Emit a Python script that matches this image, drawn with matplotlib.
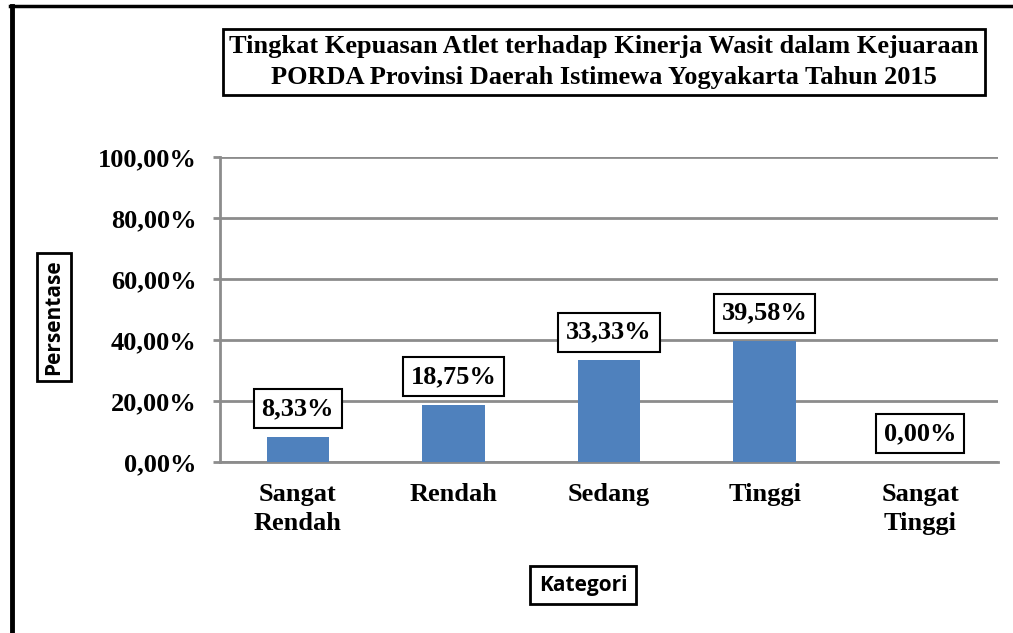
import matplotlib.pyplot as plt
from matplotlib.lines import Line2D

# data
categories = ['Sangat\nRendah', 'Rendah', 'Sedang', 'Tinggi', 'Sangat\nTinggi']
values = [8.33, 18.75, 33.33, 39.58, 0.00]
labels = ['8,33%', '18,75%', '33,33%', '39,58%', '0,00%']
yticks = [0, 20, 40, 60, 80, 100]
ytick_labels = ['0,00%', '20,00%', '40,00%', '60,00%', '80,00%', '100,00%']

W, H = 1013, 633
fig = plt.figure(figsize=(W / 100, H / 100), dpi=100)
ax = fig.add_axes([220 / W, 1 - 462 / H, 778 / W, 305 / H])

serif = 'Liberation Serif'
sans = 'Open Sans'

x = range(len(categories))
ax.bar(x, values, width=0.4, color='#4f81bd', zorder=3)
ax.set_xlim(-0.5, 4.5)
ax.set_ylim(0, 100)

ax.set_yticks(yticks)
ax.set_yticklabels(ytick_labels, fontfamily=serif, fontweight='bold', fontsize=19)
ax.set_xticks(list(x))
ax.set_xticklabels(categories, fontfamily=serif, fontweight='bold', fontsize=19, linespacing=1.35)
ax.tick_params(axis='x', length=0, pad=15)
ax.tick_params(axis='y', length=5, width=2, color='#8c8c8c', pad=12)

ax.grid(axis='y', color='#8c8c8c', linewidth=2, zorder=0)
for s in ['top', 'right']:
    ax.spines[s].set_visible(False)
for s in ['left', 'bottom']:
    ax.spines[s].set_color('#8c8c8c')
    ax.spines[s].set_linewidth(2)

# data labels in boxes
for i, v in enumerate(values):
    ax.annotate(labels[i], (i, v), xytext=(0, 12), textcoords='offset points',
                ha='center', va='bottom', fontfamily=serif, fontweight='bold', fontsize=19,
                bbox=dict(boxstyle='square,pad=0.3', fc='white', ec='black', lw=1.5),
                zorder=5)

# title box
fig.text((215 + 993) / 2 / W, 1 - 62 / H,
         'Tingkat Kepuasan Atlet terhadap Kinerja Wasit dalam Kejuaraan\n'
         'PORDA Provinsi Daerah Istimewa Yogyakarta Tahun 2015',
         ha='center', va='center', fontfamily=serif, fontweight='bold', fontsize=19,
         linespacing=1.4,
         bbox=dict(boxstyle='square,pad=0.25', fc='white', ec='black', lw=2))

# axis titles in boxes
fig.text(54 / W, 1 - 317 / H, 'Persentase', rotation=90, ha='center', va='center',
         fontfamily=sans, fontweight='bold', fontsize=15,
         bbox=dict(boxstyle='square,pad=0.3', fc='white', ec='black', lw=2))
fig.text(583 / W, 1 - 585 / H, 'Kategori', ha='center', va='center',
         fontfamily=sans, fontweight='bold', fontsize=15,
         bbox=dict(boxstyle='square,pad=0.4', fc='white', ec='black', lw=2))

# outer frame (left and top only)
fig.add_artist(Line2D([11.5 / W, 11.5 / W], [0, 1 - 6 / H], color='black', lw=3.5))
fig.add_artist(Line2D([10 / W, 1], [1 - 6 / H, 1 - 6 / H], color='black', lw=2.5))

fig.savefig('out.png', dpi=100)
